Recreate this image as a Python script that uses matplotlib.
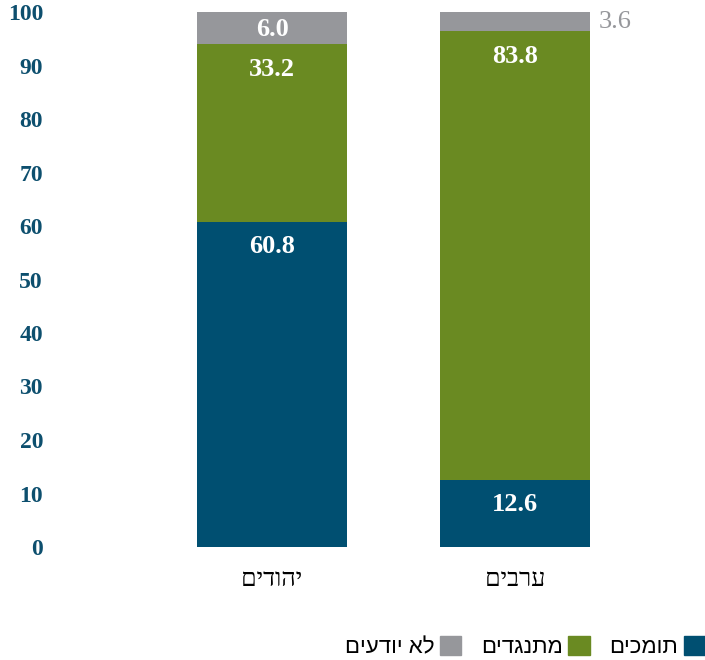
import numpy as np
import matplotlib.pyplot as plt
from matplotlib.patches import Patch

plt.rcParams['font.family'] = ['Liberation Serif', 'DejaVu Sans']

# data
groups = ["יהודים", "ערבים"]
support = [60.8, 12.6]
oppose = [33.2, 83.8]
dont_know = [6.0, 3.6]
series_names = ["תומכים", "מתנגדים", "לא יודעים"]
yticks = np.arange(0, 101, 10)

colors = ["#004f71", "#6a8a22", "#96979b"]
tick_color = "#0d4f6e"


def rtl(s):
    # matplotlib has no bidi support, reverse Hebrew for display
    return s[::-1]


fig = plt.figure(figsize=(7.05, 6.6), dpi=100)
ax = fig.add_axes([50 / 705, 113 / 660, 655 / 705, 535 / 660])

x = np.arange(len(groups))
width = 150 / 243

stack = [support, oppose, dont_know]
bottom = np.zeros(len(groups))
for k, vals in enumerate(stack):
    vals = np.array(vals)
    ax.bar(x, vals, width, bottom=bottom, color=colors[k], linewidth=0)
    for i, v in enumerate(vals):
        top = bottom[i] + v
        if v >= 10:
            ax.annotate(f"{v:.1f}", (x[i], top), xytext=(0, -18),
                        textcoords="offset points", ha="center", va="center",
                        color="white", fontsize=19, fontweight="bold")
        elif i == 0:
            ax.text(x[i], bottom[i] + v / 2 - 0.3, f"{v:.1f}", ha="center",
                    va="center", color="white", fontsize=19, fontweight="bold")
        else:
            ax.annotate(f"{v:.1f}", (x[i] + width / 2, bottom[i] + v / 2),
                        xytext=(6, 0), textcoords="offset points",
                        ha="left", va="center", color="#96979b", fontsize=19)
    bottom += vals

ax.set_xlim(-222 / 243, 1 + 190 / 243)
ax.set_ylim(0, 100)
ax.set_yticks(yticks)
ax.set_yticklabels([str(t) for t in yticks], color=tick_color,
                   fontsize=17, fontweight="bold")
ax.tick_params(axis="y", length=0, pad=5)
ax.set_xticks(x)
ax.set_xticklabels([rtl(g) for g in groups], fontsize=18)
ax.tick_params(axis="x", length=0, pad=16)
for s in ax.spines.values():
    s.set_visible(False)

handles = [Patch(color=colors[k], label=rtl(series_names[k])) for k in [2, 1, 0]]
fig.legend(handles=handles, loc="lower right", bbox_to_anchor=(1.0, 0.003),
           ncol=3, frameon=False, markerfirst=False, handlelength=0.95,
           handleheight=0.95, handletextpad=0.25, columnspacing=0.9,
           prop={"family": ["Liberation Sans", "DejaVu Sans"], "size": 16},
           borderaxespad=0, borderpad=0)

fig.savefig("out.png", dpi=100)
